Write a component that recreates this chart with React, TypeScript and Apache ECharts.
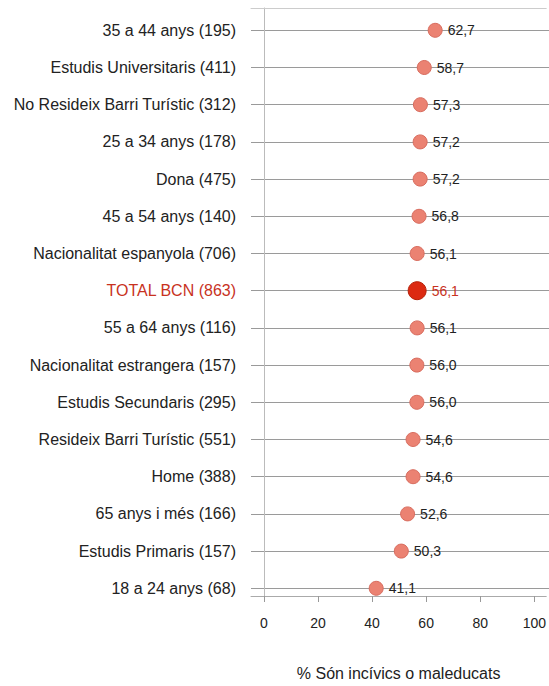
import React, { useEffect, useRef } from "react";
import * as echarts from "echarts";

const categories = [
  "35 a 44 anys (195)",
  "Estudis Universitaris (411)",
  "No Resideix Barri Turístic (312)",
  "25 a 34 anys (178)",
  "Dona (475)",
  "45 a 54 anys (140)",
  "Nacionalitat espanyola (706)",
  "TOTAL BCN (863)",
  "55 a 64 anys (116)",
  "Nacionalitat estrangera (157)",
  "Estudis Secundaris (295)",
  "Resideix Barri Turístic (551)",
  "Home (388)",
  "65 anys i més (166)",
  "Estudis Primaris (157)",
  "18 a 24 anys (68)",
];
const values = [62.7, 58.7, 57.3, 57.2, 57.2, 56.8, 56.1, 56.1, 56.1, 56.0, 56.0, 54.6, 54.6, 52.6, 50.3, 41.1];
const xTicks = [0, 20, 40, 60, 80, 100];
const totalLabel = "TOTAL BCN (863)";
const axisTitle = "% Són incívics o maleducats";

const FONT = "Liberation Sans, Arial, sans-serif";
const RED = "#c8321e";

export default function App() {
  const ref = useRef<HTMLDivElement>(null);
  useEffect(() => {
    const chart = echarts.init(ref.current!, undefined, { renderer: "svg" });
    const xMin = -4.76;
    const xMax = 104.4;
    const catData = categories.map((c) =>
      c === totalLabel ? { value: c, textStyle: { color: RED } } : c
    );
    const seriesData = values.map((v, i) => {
      const isTotal = categories[i] === totalLabel;
      return {
        value: [v, categories[i]],
        symbolSize: isTotal ? 18 : 14,
        itemStyle: isTotal
          ? { color: "#dc2a12", borderColor: "#b62008", borderWidth: 1, opacity: 1 }
          : { color: "#eb8272", borderColor: "#d86c5e", borderWidth: 1, opacity: 1 },
        label: { color: isTotal ? RED : "#222" },
      };
    });
    chart.setOption({
      animation: false,
      textStyle: { fontFamily: FONT },
      grid: [
        { left: 251, width: 298, top: 8, height: 602 },
        { left: 251, width: 298, top: 30.3, height: 558 },
      ],
      xAxis: [
        {
          gridIndex: 0,
          type: "value",
          min: xMin,
          max: xMax,
          position: "bottom",
          axisLine: { show: true, lineStyle: { color: "#aaa", width: 1 } },
          axisTick: {
            show: true,
            customValues: xTicks,
            length: 6,
            lineStyle: { color: "#999" },
          },
          axisLabel: {
            customValues: xTicks,
            fontSize: 14,
            color: "#222",
            margin: 20,
            fontFamily: FONT,
          },
          splitLine: { show: false },
          name: axisTitle,
          nameLocation: "middle",
          nameGap: 69,
          nameTextStyle: { fontSize: 16, color: "#222", fontFamily: FONT },
        },
        {
          gridIndex: 0,
          type: "value",
          min: xMin,
          max: xMax,
          position: "top",
          axisLine: { show: true, lineStyle: { color: "#ccc", width: 1 } },
          axisTick: { show: false },
          axisLabel: { show: false },
          splitLine: { show: false },
        },
        {
          gridIndex: 1,
          type: "value",
          min: xMin,
          max: xMax,
          show: false,
        },
      ],
      yAxis: [
        {
          gridIndex: 0,
          type: "value",
          axisLine: { show: true, lineStyle: { color: "#bbb", width: 1 } },
          axisTick: { show: false },
          axisLabel: { show: false },
          splitLine: { show: false },
        },
        {
          gridIndex: 1,
          type: "category",
          data: catData,
          inverse: true,
          boundaryGap: false,
          axisLine: { show: false },
          axisTick: { show: false },
          axisLabel: {
            fontSize: 16,
            color: "#222",
            margin: 15,
            fontFamily: FONT,
            interval: 0,
          },
          splitLine: { show: true, interval: 0, lineStyle: { color: "#9a9a9a", width: 1 } },
        },
      ],
      series: [
        {
          type: "scatter",
          xAxisIndex: 2,
          yAxisIndex: 1,
          data: seriesData,
          itemStyle: { opacity: 1 },
          label: {
            show: true,
            position: "right",
            distance: 5,
            fontSize: 14,
            fontFamily: FONT,
            formatter: (p: any) => p.value[0].toFixed(1).replace(".", ","),
          },
        },
      ],
    });
    return () => chart.dispose();
  }, []);
  return <div ref={ref} style={{ width: 549, height: 686, position: "absolute", left: 0, top: 0 }} />;
}
